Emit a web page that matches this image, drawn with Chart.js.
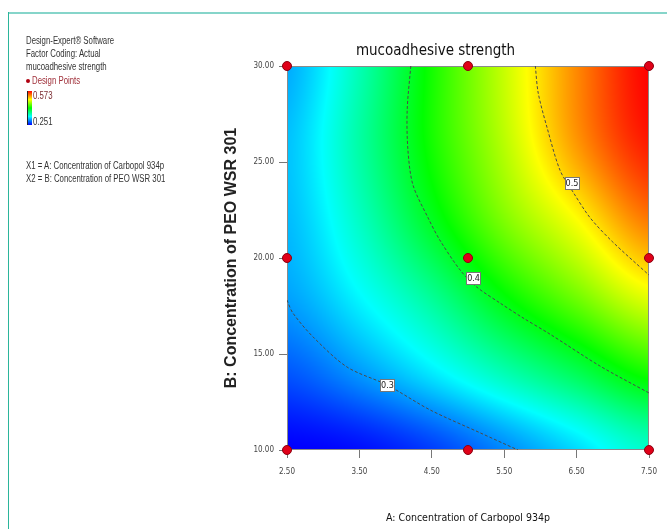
<!DOCTYPE html>
<html>
<head>
<meta charset="utf-8">
<script src="https://cdn.jsdelivr.net/npm/chart.js@4.4.1/dist/chart.umd.min.js"></script>
<style>
html, body { margin: 0; padding: 0; background: #fff; }
#wrap { position: relative; width: 667px; height: 529px; overflow: hidden; }
#chart { position: absolute; left: 0; top: 0; }
#frameTop { position: absolute; left: 8px; top: 12px; right: 0; height: 2px; background: #86d5ca; }
#frameLeft { position: absolute; left: 8px; top: 12px; bottom: 0; width: 1px; background: #2bb59b; }
.note { position: absolute; left: 26px; font: 10px 'Liberation Sans', Arial, sans-serif; color: #333;
        white-space: nowrap; line-height: 10px; transform: scaleX(0.78); transform-origin: 0 0; }
#cbar { position: absolute; left: 27px; top: 91px; width: 4px; height: 34px; border-left: 1px solid #222;
        background: linear-gradient(to top, #0000ff, #00ffff, #00ff00, #ffff00, #ff0000); }
#dot { position: absolute; left: 26px; top: 79px; width: 4px; height: 4px; border-radius: 50%; background: #b00010; }
</style>
</head>
<body>
<div id="wrap">
  <canvas id="chart" width="667" height="529"></canvas>
  <div id="frameTop"></div>
  <div id="frameLeft"></div>
  <div class="note" style="top:36px">Design-Expert® Software</div>
  <div class="note" style="top:49px">Factor Coding: Actual</div>
  <div class="note" style="top:62px">mucoadhesive strength</div>
  <div id="dot"></div>
  <div class="note" style="top:76px;left:32px;color:#a0303a">Design Points</div>
  <div id="cbar"></div>
  <div class="note" style="top:91px;left:33px;color:#7a2a30">0.573</div>
  <div class="note" style="top:117px;left:33px">0.251</div>
  <div class="note" style="top:161px">X1 = A: Concentration of Carbopol 934p</div>
  <div class="note" style="top:174px">X2 = B: Concentration of PEO WSR 301</div>
</div>
<script>
// ---- DATA ----
const factorA = [2.5, 3.5, 4.5, 5.5, 6.5, 7.5];
const factorB = [10, 14, 18, 22, 26, 30];
const strength = [
    [0.250, 0.255, 0.270, 0.294, 0.320, 0.348],
    [0.278, 0.299, 0.325, 0.355, 0.385, 0.418],
    [0.302, 0.330, 0.365, 0.410, 0.448, 0.485],
    [0.310, 0.350, 0.402, 0.452, 0.492, 0.535],
    [0.312, 0.360, 0.418, 0.470, 0.525, 0.565],
    [0.305, 0.355, 0.418, 0.475, 0.530, 0.573],
];
const colorLevels = [0.251, 0.3315, 0.412, 0.4925, 0.573];
const colorStops = [[0, 0, 255], [0, 255, 255], [0, 255, 0], [255, 255, 0], [255, 0, 0]];

const designA = [2.5, 5, 7.5, 2.5, 5, 7.5, 2.5, 5, 7.5];
const designB = [10, 10, 10, 20, 20, 20, 30, 30, 30];

// contour lines
const c03A = [2.5, 2.58, 2.86, 3.33, 3.88, 4.48, 5.17, 5.69];
const c03B = [17.81, 17.14, 15.89, 14.32, 13.39, 12.08, 10.89, 10.0];
const c04A = [4.21, 4.16, 4.17, 4.24, 4.45, 4.61, 4.89, 5.12, 5.44, 5.76, 6.13, 6.82, 7.5];
const c04B = [30.0, 27.71, 25.63, 23.80, 22.08, 20.94, 19.38, 18.49, 17.66, 16.88, 16.04, 14.38, 12.97];
const c05A = [5.93, 5.97, 6.09, 6.27, 6.45, 6.69, 7.00, 7.5];
const c05B = [30.0, 28.59, 26.82, 24.58, 23.44, 22.08, 20.83, 19.11];

const contourLabels = ['0.3', '0.4', '0.5'];
const labelA = [3.88, 5.07, 6.43];
const labelB = [13.39, 18.96, 23.9];

const xTicks = [2.5, 3.5, 4.5, 5.5, 6.5, 7.5];
const yTicks = [10, 15, 20, 25, 30];

const NARROW = "'Liberation Sans Narrow', 'DejaVu Sans Condensed', 'Liberation Sans', sans-serif";

// ---- SURFACE ----
function cr(p0, p1, p2, p3, t) {
    return 0.5 * (2 * p1 + (-p0 + p2) * t + (2 * p0 - 5 * p1 + 4 * p2 - p3) * t * t
                  + (-p0 + 3 * p1 - 3 * p2 + p3) * t * t * t);
}
function locate(arr, v) {
    let k = 0;
    while (k < arr.length - 2 && v > arr[k + 1]) k++;
    return [k, Math.min(1, Math.max(0, (v - arr[k]) / (arr[k + 1] - arr[k])))];
}
function valueAt(a, b) {
    const [i, ti] = locate(factorA, a), [j, tj] = locate(factorB, b);
    const n = factorA.length, m = factorB.length;
    const row = r => {
        const R = strength[Math.min(m - 1, Math.max(0, r))];
        const g = c => R[Math.min(n - 1, Math.max(0, c))];
        return cr(g(i - 1), g(i), g(i + 1), g(i + 2), ti);
    };
    return cr(row(j - 1), row(j), row(j + 1), row(j + 2), tj);
}
function colorOf(v) {
    if (v <= colorLevels[0]) return colorStops[0];
    for (let k = 1; k < colorLevels.length; k++) {
        if (v <= colorLevels[k]) {
            const t = (v - colorLevels[k - 1]) / (colorLevels[k] - colorLevels[k - 1]);
            const a = colorStops[k - 1], b = colorStops[k];
            return [a[0] + (b[0] - a[0]) * t, a[1] + (b[1] - a[1]) * t, a[2] + (b[2] - a[2]) * t];
        }
    }
    return colorStops[colorStops.length - 1];
}

const surfacePlugin = {
    id: 'surface',
    beforeDatasetsDraw(chart) {
        const { ctx, chartArea: ar, scales: { x, y } } = chart;
        const w = Math.round(ar.right - ar.left), h = Math.round(ar.bottom - ar.top);
        const off = document.createElement('canvas');
        off.width = w; off.height = h;
        const octx = off.getContext('2d');
        const img = octx.createImageData(w, h);
        for (let j = 0; j < h; j++) {
            const b = y.getValueForPixel(ar.top + j + 0.5);
            for (let i = 0; i < w; i++) {
                const c = colorOf(valueAt(x.getValueForPixel(ar.left + i + 0.5), b));
                const p = (j * w + i) * 4;
                img.data[p] = c[0]; img.data[p + 1] = c[1]; img.data[p + 2] = c[2]; img.data[p + 3] = 255;
            }
        }
        octx.putImageData(img, 0, 0);
        ctx.save();
        ctx.drawImage(off, ar.left, ar.top);
        ctx.strokeStyle = '#8a8a8a';
        ctx.lineWidth = 1;
        ctx.strokeRect(ar.left + 0.5, ar.top + 0.5, w - 1, h - 1);
        ctx.restore();
    },
    afterDatasetsDraw(chart) {
        const { ctx, scales: { x, y } } = chart;
        ctx.save();
        ctx.font = '9px ' + NARROW;
        ctx.textAlign = 'center';
        ctx.textBaseline = 'middle';
        contourLabels.forEach((t, k) => {
            const px = x.getPixelForValue(labelA[k]), py = y.getPixelForValue(labelB[k]);
            ctx.fillStyle = '#fff';
            ctx.strokeStyle = '#777';
            ctx.lineWidth = 1;
            ctx.fillRect(Math.round(px - 7) + 0.5, Math.round(py - 6) + 0.5, 14, 12);
            ctx.strokeRect(Math.round(px - 7) + 0.5, Math.round(py - 6) + 0.5, 14, 12);
            ctx.fillStyle = '#222';
            ctx.fillText(t, px + 0.5, py + 1);
        });
        ctx.restore();
    }
};

function pts(xs, ys) { return xs.map((v, i) => ({ x: v, y: ys[i] })); }
function contour(xs, ys) {
    return { type: 'line', data: pts(xs, ys), borderColor: '#4a4a4a', borderWidth: 1,
             borderDash: [3, 2], pointRadius: 0, tension: 0.3, fill: false };
}

new Chart(document.getElementById('chart'), {
    type: 'scatter',
    data: {
        datasets: [
            { data: pts(designA, designB), pointRadius: 4.5, backgroundColor: '#e00018',
              borderColor: '#8a0010', borderWidth: 1, clip: false },
            contour(c03A, c03B),
            contour(c04A, c04B),
            contour(c05A, c05B),
        ],
    },
    options: {
        responsive: false, animation: false, devicePixelRatio: 1,
        layout: { padding: { left: 222, right: 18, top: 31, bottom: 0 } },
        plugins: {
            legend: { display: false }, tooltip: { enabled: false },
            title: { display: true, text: 'mucoadhesive strength', color: '#111',
                     font: { family: NARROW, size: 15, weight: 'normal' }, padding: { top: 11, bottom: 6 } },
        },
        scales: {
            x: {
                type: 'linear', min: 2.5, max: 7.5,
                afterBuildTicks: s => { s.ticks = xTicks.map(v => ({ value: v })); },
                afterFit: s => { s.height = 79; },
                ticks: { callback: v => Number(v).toFixed(2), color: '#444', padding: 9,
                         font: { family: NARROW, size: 8 }, maxRotation: 0 },
                grid: { drawOnChartArea: false, tickLength: 8, color: '#777' },
                border: { display: false },
                title: { display: true, text: 'A: Concentration of Carbopol 934p', color: '#111',
                         font: { family: NARROW, size: 10.5 }, padding: { top: 0, bottom: 4 } },
            },
            y: {
                type: 'linear', min: 10, max: 30,
                afterBuildTicks: s => { s.ticks = yTicks.map(v => ({ value: v })); },
                afterFit: s => { s.width = 65; },
                ticks: { callback: v => Number(v).toFixed(2), color: '#444', padding: 5,
                         font: { family: NARROW, size: 8 } },
                grid: { drawOnChartArea: false, tickLength: 8, color: '#777' },
                border: { display: false },
                title: { display: true, text: 'B: Concentration of PEO WSR 301', color: '#222',
                         font: { family: 'Liberation Sans', size: 16, weight: 'bold' }, padding: { top: 0, bottom: 0 } },
            },
        },
    },
    plugins: [surfacePlugin],
});
</script>
</body>
</html>
